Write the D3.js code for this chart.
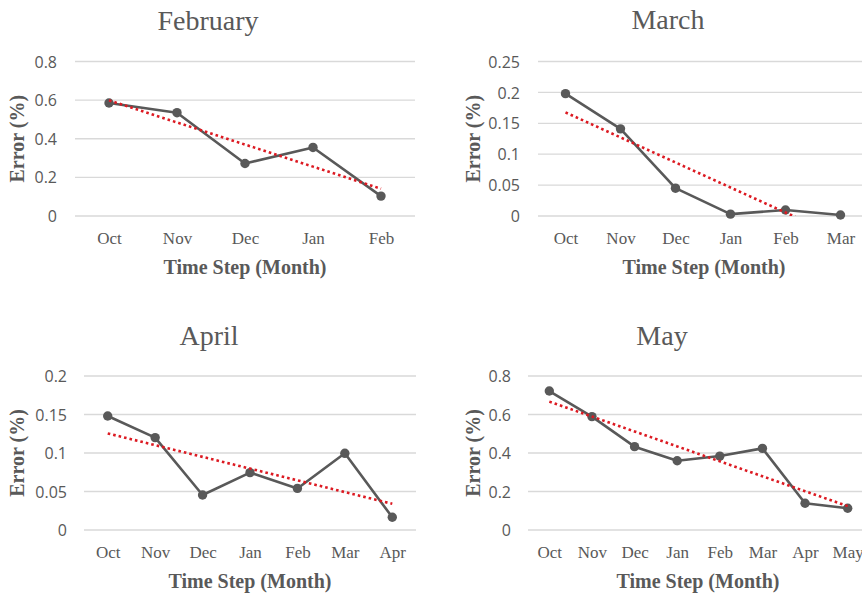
<!DOCTYPE html>
<html>
<head>
<meta charset="utf-8">
<script src="https://cdn.jsdelivr.net/npm/d3@7"></script>
<style>
  html, body { margin: 0; padding: 0; background: #fff; }
  svg { display: block; }
</style>
</head>
<body>
<svg id="chart" width="862" height="593"></svg>
<script>
// Monthly error series, one per forecast target month
const febMonths = ["Oct", "Nov", "Dec", "Jan", "Feb"];
const febErrors = [0.585, 0.535, 0.272, 0.355, 0.103];
const febTicks = [0, 0.2, 0.4, 0.6, 0.8];

const marMonths = ["Oct", "Nov", "Dec", "Jan", "Feb", "Mar"];
const marErrors = [0.198, 0.141, 0.045, 0.003, 0.0097, 0.0016];
const marTicks = [0, 0.05, 0.1, 0.15, 0.2, 0.25];

const aprMonths = ["Oct", "Nov", "Dec", "Jan", "Feb", "Mar", "Apr"];
const aprErrors = [0.148, 0.120, 0.0455, 0.0745, 0.054, 0.0996, 0.0165];
const aprTicks = [0, 0.05, 0.1, 0.15, 0.2];

const mayMonths = ["Oct", "Nov", "Dec", "Jan", "Feb", "Mar", "Apr", "May"];
const mayErrors = [0.722, 0.589, 0.433, 0.360, 0.384, 0.424, 0.139, 0.113];
const mayTicks = [0, 0.2, 0.4, 0.6, 0.8];

const panelTitles = ["February", "March", "April", "May"];

// Layout of each small chart
const layouts = [
  { x0: 75,  x1: 415, yTop: 61.5, yBot: 216, tickRight: 57,  yTitleX: 17,  titleX: 208, titleY: 29.5, xTitleX: 245 },
  { x0: 538, x1: 868, yTop: 61.5, yBot: 216, tickRight: 520, yTitleX: 473, titleX: 668, titleY: 28.5, xTitleX: 704 },
  { x0: 84,  x1: 416, yTop: 376,  yBot: 530, tickRight: 67,  yTitleX: 17,  titleX: 209, titleY: 344.5, xTitleX: 250 },
  { x0: 528, x1: 869, yTop: 376,  yBot: 530, tickRight: 511, yTitleX: 473, titleX: 662, titleY: 344.5, xTitleX: 698 }
];

const panels = [
  { title: panelTitles[0], months: febMonths, values: febErrors, ticks: febTicks },
  { title: panelTitles[1], months: marMonths, values: marErrors, ticks: marTicks },
  { title: panelTitles[2], months: aprMonths, values: aprErrors, ticks: aprTicks },
  { title: panelTitles[3], months: mayMonths, values: mayErrors, ticks: mayTicks }
];

const TEXT = "#595959";
const GRID = "#d9d9d9";
const LINE = "#595959";
const TREND = "#dc1a22";
const SERIF = "'Liberation Serif', 'Times New Roman', serif";
const SANS = "'Open Sans', 'Liberation Sans', sans-serif";

// Ordinary least squares fit over category index, as a linear trendline
function linearFit(values) {
  const xs = values.map((_, i) => i + 1);
  const mx = d3.mean(xs), my = d3.mean(values);
  let sxy = 0, sxx = 0;
  xs.forEach((x, i) => { sxy += (x - mx) * (values[i] - my); sxx += (x - mx) * (x - mx); });
  const slope = sxy / sxx;
  const intercept = my - slope * mx;
  return xs.map(x => intercept + slope * x);
}

const svg = d3.select("#chart");

panels.forEach((p, idx) => {
  const L = layouts[idx];
  const g = svg.append("g");

  const x = d3.scalePoint().domain(p.months).range([L.x0, L.x1]).padding(0.5);
  const y = d3.scaleLinear().domain([0, d3.max(p.ticks)]).range([L.yBot, L.yTop]);

  // horizontal gridlines
  g.append("g")
    .selectAll("line")
    .data(p.ticks)
    .join("line")
    .attr("x1", L.x0).attr("x2", L.x1)
    .attr("y1", d => y(d)).attr("y2", d => y(d))
    .attr("stroke", GRID).attr("stroke-width", 1.3);

  // y-axis tick labels
  const yAxis = d3.axisLeft(y).tickValues(p.ticks).tickSize(0).tickPadding(0)
    .tickFormat(d => String(+d.toFixed(2)));
  const ya = g.append("g").attr("transform", `translate(${L.tickRight},0)`).call(yAxis);
  ya.select(".domain").remove();
  ya.selectAll("text").attr("font-family", SANS).attr("font-size", 16)
    .attr("fill", TEXT).attr("dy", "0.35em");

  // x-axis category labels
  const xAxis = d3.axisBottom(x).tickSize(0).tickPadding(0);
  const xa = g.append("g").attr("transform", `translate(0,${L.yBot + 28})`).call(xAxis);
  xa.select(".domain").remove();
  xa.selectAll("text").attr("font-family", SERIF).attr("font-size", 17)
    .attr("fill", TEXT).attr("dy", 0);

  // clip to plot region so the trendline stops at the zero gridline
  const clipId = "clip" + idx;
  svg.append("clipPath").attr("id", clipId)
    .append("rect").attr("x", L.x0 - 10).attr("y", L.yTop - 10)
    .attr("width", L.x1 - L.x0 + 20).attr("height", L.yBot - L.yTop + 10);

  // data line
  const line = d3.line().x((d, i) => x(p.months[i])).y(d => y(d));
  g.append("path").datum(p.values)
    .attr("d", line)
    .attr("fill", "none").attr("stroke", LINE).attr("stroke-width", 2.6)
    .attr("stroke-linejoin", "round");

  g.append("g").selectAll("circle")
    .data(p.values)
    .join("circle")
    .attr("cx", (d, i) => x(p.months[i]))
    .attr("cy", d => y(d))
    .attr("r", 4.7)
    .attr("fill", LINE);

  // dotted linear trendline
  const fit = linearFit(p.values);
  g.append("path").datum(fit)
    .attr("clip-path", `url(#${clipId})`)
    .attr("d", line)
    .attr("fill", "none").attr("stroke", TREND).attr("stroke-width", 2.6)
    .attr("stroke-dasharray", "2.6,3");

  // chart title
  g.append("text")
    .attr("x", L.titleX).attr("y", L.titleY)
    .attr("text-anchor", "middle")
    .attr("font-family", SERIF).attr("font-size", 28)
    .attr("fill", TEXT)
    .text(p.title);

  // axis titles
  g.append("text")
    .attr("x", L.xTitleX).attr("y", L.yBot + 58)
    .attr("text-anchor", "middle")
    .attr("font-family", SERIF).attr("font-size", 20).attr("font-weight", "bold")
    .attr("fill", TEXT)
    .text("Time Step (Month)");

  g.append("text")
    .attr("transform", `translate(${L.yTitleX + 7},${(L.yTop + L.yBot) / 2}) rotate(-90)`)
    .attr("text-anchor", "middle")
    .attr("font-family", SERIF).attr("font-size", 20).attr("font-weight", "bold")
    .attr("fill", TEXT)
    .text("Error (%)");
});
</script>
</body>
</html>
